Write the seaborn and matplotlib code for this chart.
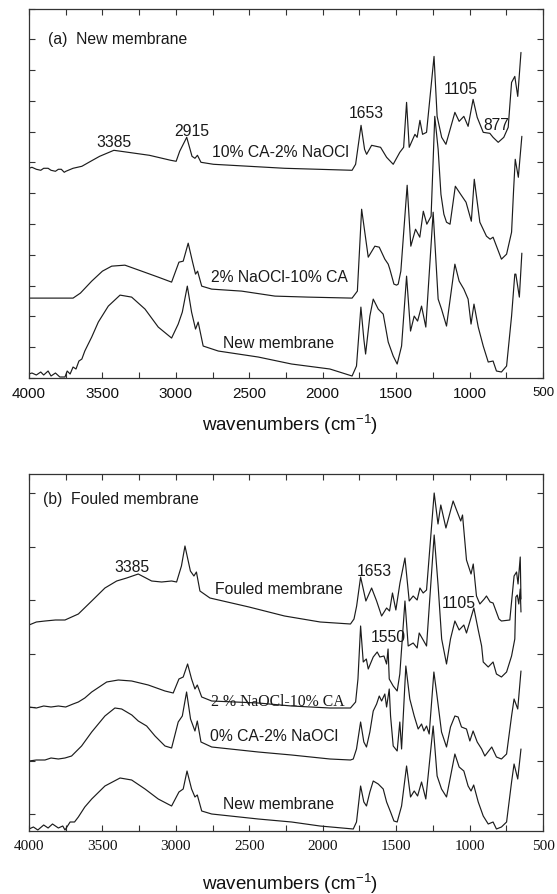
import numpy as np
import pandas as pd
import matplotlib
matplotlib.use("Agg")
import matplotlib.pyplot as plt
from matplotlib.ticker import MultipleLocator, FixedLocator
import seaborn as sns

# ---------------- data (wavenumber in cm-1, intensity in arbitrary offset units) -------------
# Panel (a) New membrane
a1_w = [4000, 3980, 3950, 3920, 3900, 3870, 3850, 3820, 3800, 3780, 3760, 3749, 3700, 3640, 3580, 3519,
        3422, 3325, 3180, 3035, 2998, 2974, 2926, 2890, 2870, 2853, 2829, 2744, 2502, 2260, 1800, 1776,
        1739, 1715, 1701, 1667, 1606, 1565, 1520, 1475, 1449, 1429, 1411, 1372, 1357, 1338, 1320, 1293,
        1242, 1221, 1190, 1161, 1100, 1071, 1039, 1010, 976, 948, 907, 862, 840, 805, 767, 737, 714,
        692, 672, 650]
a1_v = [210, 211, 209, 208, 210, 210, 208, 207, 209, 209, 206, 207, 210, 212, 217, 222,
        228, 226, 223, 218, 217, 227, 241, 222, 220, 223, 216, 214, 212, 210, 208, 214,
        253, 229, 224, 233, 231, 221, 214, 226, 231, 276, 231, 244, 241, 258, 244, 246,
        322, 262, 241, 234, 266, 257, 262, 252, 279, 261, 246, 245, 241, 236, 241, 251, 296,
        302, 282, 326]

a2_w = [4000, 3900, 3800, 3700, 3650, 3573, 3500, 3437, 3347, 3233, 3120, 3029, 2979, 2950, 2916, 2886,
        2866, 2852, 2824, 2756, 2552, 2325, 2100, 1800, 1764, 1735, 1690, 1645, 1615, 1577, 1554, 1543,
        1515, 1497, 1486, 1468, 1425, 1400, 1368, 1339, 1315, 1291, 1262, 1237, 1214, 1195, 1175, 1157,
        1133, 1097, 1061, 1024, 988, 968, 930, 885, 860, 840, 783, 748, 714, 700, 689, 668, 644]
a2_v = [80, 80, 80, 80, 85, 97, 107, 112, 113, 107, 101, 96, 116, 117, 135, 116,
        104, 107, 92, 89, 87, 82, 81, 80, 87, 169, 121, 132, 131, 119, 114, 109,
        94, 93, 94, 107, 193, 132, 149, 141, 167, 154, 162, 262, 229, 184, 164, 156,
        154, 192, 184, 176, 157, 199, 156, 142, 139, 141, 119, 124, 146, 189, 219, 201, 242]

a3_w = [4000, 3980, 3950, 3920, 3900, 3870, 3850, 3820, 3790, 3755, 3740, 3720, 3700, 3680, 3660, 3640,
        3620, 3600, 3573, 3528, 3460, 3380, 3301, 3210, 3120, 3029, 2984, 2956, 2922, 2893, 2866, 2848,
        2814, 2711, 2439, 2212, 1951, 1800, 1770, 1740, 1720, 1708, 1679, 1656, 1622, 1588, 1554, 1520,
        1493, 1463, 1429, 1402, 1377, 1354, 1327, 1298, 1248, 1214, 1191, 1157, 1100, 1071, 1039, 1010,
        990, 970, 941, 907, 873, 840, 817, 783, 748, 714, 692, 685, 661, 644]
a3_v = [4, 5, 3, 6, 3, 7, 2, 5, 1, 1, 7, 4, 11, 9, 17, 19,
        27, 33, 41, 56, 72, 83, 81, 69, 51, 40, 54, 66, 92, 66, 49, 56,
        32, 27, 21, 14, 9, 2, 12, 71, 39, 24, 62, 79, 69, 64, 36, 22,
        14, 32, 102, 47, 62, 57, 72, 51, 166, 79, 69, 52, 114, 97, 89, 79,
        54, 74, 51, 32, 16, 17, 7, 6, 12, 62, 104, 104, 81, 125]

# Panel (b) Fouled membrane
b1_w = [4000, 3950, 3891, 3820, 3755, 3664, 3573, 3483, 3403, 3335, 3256, 3165, 3097, 3029, 2995, 2962,
        2938, 2901, 2877, 2860, 2836, 2768, 2502, 2260, 2017, 1811, 1787, 1769, 1742, 1706, 1667, 1633,
        1599, 1565, 1545, 1525, 1502, 1474, 1440, 1411, 1384, 1357, 1338, 1316, 1293, 1241, 1215, 1196,
        1161, 1112, 1089, 1060, 1048, 1021, 990, 975, 953, 930, 900, 885, 860, 840, 800, 783, 726, 697,
        680, 670, 655, 650]
b1_v = [206, 209, 210, 211, 211, 217, 230, 243, 250, 253, 257, 250, 249, 250, 249, 265,
        285, 260, 255, 259, 240, 233, 224, 215, 209, 207, 212, 225, 254, 230, 243, 230,
        215, 223, 220, 238, 221, 248, 273, 230, 235, 231, 243, 238, 241, 338, 307, 326,
        303, 330, 321, 310, 316, 271, 257, 267, 235, 227, 232, 235, 229, 228, 212, 210, 211, 255,
        259, 247, 274, 232]

b2_w = [4000, 3950, 3900, 3850, 3800, 3750, 3700, 3664, 3620, 3573, 3471, 3392, 3301, 3188, 3074, 3018,
        2979, 2950, 2920, 2893, 2870, 2854, 2824, 2756, 2439, 2212, 1951, 1811, 1776, 1760, 1742, 1724,
        1703, 1690, 1656, 1629, 1611, 1583, 1565, 1555, 1547, 1520, 1493, 1475, 1440, 1418, 1384, 1357,
        1343, 1316, 1293, 1241, 1214, 1190, 1157, 1130, 1100, 1071, 1039, 1021, 971, 941, 918, 907, 873,
        840, 817, 783, 748, 714, 692, 685, 675, 665, 655, 650]
b2_v = [124, 123, 125, 124, 125, 124, 127, 129, 133, 139, 149, 151, 150, 146, 140, 138,
        152, 154, 167, 152, 142, 146, 134, 130, 128, 125, 123, 123, 129, 152, 205, 169,
        172, 162, 174, 179, 174, 175, 167, 182, 152, 145, 140, 157, 230, 185, 188, 183,
        198, 191, 185, 296, 245, 192, 167, 192, 210, 201, 206, 198, 223, 201, 185, 169, 164,
        169, 157, 154, 159, 175, 192, 234, 236, 227, 242, 219]

b3_w = [4000, 3950, 3891, 3850, 3800, 3755, 3710, 3642, 3573, 3483, 3415, 3369, 3300, 3256, 3199, 3142,
        3074, 3029, 2984, 2956, 2927, 2900, 2870, 2854, 2829, 2756, 2439, 2212, 1951, 1811, 1792, 1770,
        1742, 1720, 1702, 1679, 1656, 1633, 1615, 1599, 1577, 1565, 1547, 1538, 1520, 1493, 1475, 1463,
        1434, 1407, 1377, 1350, 1327, 1311, 1293, 1275, 1243, 1225, 1191, 1157, 1130, 1100, 1078, 1055,
        1021, 998, 976, 948, 918, 896, 870, 849, 817, 783, 748, 714, 697, 672, 650]
b3_v = [70, 71, 71, 73, 72, 73, 75, 85, 99, 115, 123, 122, 116, 110, 105, 95,
        85, 83, 109, 115, 139, 112, 100, 110, 89, 84, 79, 76, 72, 71, 72, 82,
        109, 89, 84, 99, 120, 127, 135, 130, 137, 124, 142, 115, 85, 80, 109, 82,
        165, 132, 115, 102, 107, 100, 105, 97, 159, 139, 99, 84, 104, 115, 114, 104,
        102, 90, 100, 89, 82, 75, 80, 84, 74, 72, 77, 115, 132, 122, 160]

b4_w = [4000, 3970, 3940, 3900, 3870, 3840, 3800, 3770, 3755, 3720, 3690, 3664, 3620, 3573, 3483, 3380,
        3301, 3210, 3120, 3029, 2979, 2950, 2924, 2893, 2870, 2854, 2824, 2756, 2439, 2212, 2019, 1792,
        1770, 1742, 1720, 1702, 1679, 1656, 1622, 1588, 1565, 1538, 1515, 1493, 1463, 1429, 1402, 1377,
        1354, 1327, 1298, 1248, 1221, 1191, 1157, 1100, 1071, 1039, 1010, 990, 972, 941, 907, 873, 840,
        817, 783, 748, 714, 697, 672, 650]
b4_v = [2, 4, 1, 6, 3, 7, 3, 5, 1, 9, 9, 14, 24, 32, 45, 53,
        51, 42, 32, 25, 39, 42, 60, 42, 34, 36, 20, 17, 12, 9, 5, 2,
        9, 45, 29, 25, 39, 50, 47, 42, 29, 19, 10, 9, 25, 65, 34, 40,
        35, 49, 32, 105, 55, 42, 34, 77, 64, 60, 45, 40, 46, 29, 15, 7, 9,
        2, 4, 9, 49, 67, 52, 82]

panel_a_series = [(a1_w, a1_v), (a2_w, a2_v), (a3_w, a3_v)]
panel_b_series = [(b1_w, b1_v), (b2_w, b2_v), (b3_w, b3_v), (b4_w, b4_v)]

x_ticks = [4000, 3500, 3000, 2500, 2000, 1500, 1000, 500]
x_labels = [str(t) for t in x_ticks]

# annotations: (text, wavenumber, intensity, ha, font)
ann_a = [("(a)  New membrane", 3871, 340, "left", "sans"),
         ("3385", 3421, 237, "center", "sans"),
         ("2915", 2890, 248, "center", "sans"),
         ("10% CA-2% NaOCl", 2285, 227, "center", "sans"),
         ("1653", 1703, 266, "center", "sans"),
         ("1105", 1060, 290, "center", "sans"),
         ("877", 821, 254, "center", "sans"),
         ("2% NaOCl-10% CA", 2298, 102, "center", "sans"),
         ("New membrane", 2298, 36, "center", "sans")]
ann_b = [("(b)  Fouled membrane", 3905, 332, "left", "sans"),
         ("3385", 3300, 264, "center", "sans"),
         ("Fouled membrane", 2298, 242, "center", "sans"),
         ("1653", 1652, 261, "center", "sans"),
         ("1550", 1556, 195, "center", "sans"),
         ("1105", 1073, 229, "center", "sans"),
         ("2 % NaOCl-10% CA", 2308, 130, "center", "serif"),
         ("0% CA-2% NaOCl", 2332, 95, "center", "sans"),
         ("New membrane", 2298, 27, "center", "sans")]

# ---------------- style ----------------
sns.set_theme(style="ticks")
plt.rcParams["font.family"] = ["Liberation Sans", "DejaVu Sans"]
plt.rcParams["mathtext.default"] = "regular"

W, H = 557, 895
fig = plt.figure(figsize=(W / 100, H / 100), dpi=100)

def px_axes(l, t, r, b):
    return fig.add_axes([l / W, 1 - b / H, (r - l) / W, (b - t) / H])

ax_a = px_axes(29, 9.5, 543, 379)
ax_b = px_axes(29, 474.5, 543, 832)

line_col = "#1c1c1c"

def draw(ax, series, ymax, yticks, anns, tick_font):
    for w, v in series:
        df = pd.DataFrame({"w": w, "v": v})
        sns.lineplot(data=df, x="w", y="v", ax=ax, color=line_col, linewidth=0.85,
                     estimator=None, sort=False)
    ax.set_xlim(4000, 500)
    ax.set_ylim(0, ymax)
    ax.xaxis.set_major_locator(FixedLocator(x_ticks))
    ax.xaxis.set_minor_locator(MultipleLocator(250))
    ax.set_xticklabels(x_labels, family=tick_font, fontsize=11)
    ax.yaxis.set_major_locator(FixedLocator(yticks))
    ax.set_yticklabels([])
    ax.tick_params(axis="both", which="both", direction="in", top=True, right=True,
                   length=4, width=0.8, color="#333333")
    ax.tick_params(axis="x", pad=6, colors="#333333", labelcolor="#111111")
    ax.set_xlabel("")
    ax.set_ylabel("")
    for s in ax.spines.values():
        s.set_color("#333333")
        s.set_linewidth(0.9)
    for txt, x, y, ha, f in anns:
        fam = ["Liberation Serif", "DejaVu Serif"] if f == "serif" else ["Liberation Sans", "DejaVu Sans"]
        ax.text(x, y, txt, ha=ha, va="center", fontsize=11.3, family=fam, color="#1a1a1a")

draw(ax_a, panel_a_series, 370, list(np.arange(0, 371, 370 / 12)), ann_a, ["Liberation Sans"])
draw(ax_b, panel_b_series, 357.5, list(np.arange(17, 357, 53.5)), ann_b, ["Liberation Serif"])

# smaller "500" label on panel (a)
lbls = ax_a.get_xticklabels()
lbls[-1].set_fontsize(9.5)

fig.text(0.52, 1 - 425 / H, "wavenumbers (cm$^{-1}$)", ha="center", va="center", fontsize=13.5,
         color="#111111")
fig.text(0.52, 1 - 884 / H, "wavenumbers (cm$^{-1}$)", ha="center", va="center", fontsize=13.5,
         color="#111111")

fig.savefig("out.png", dpi=100)
